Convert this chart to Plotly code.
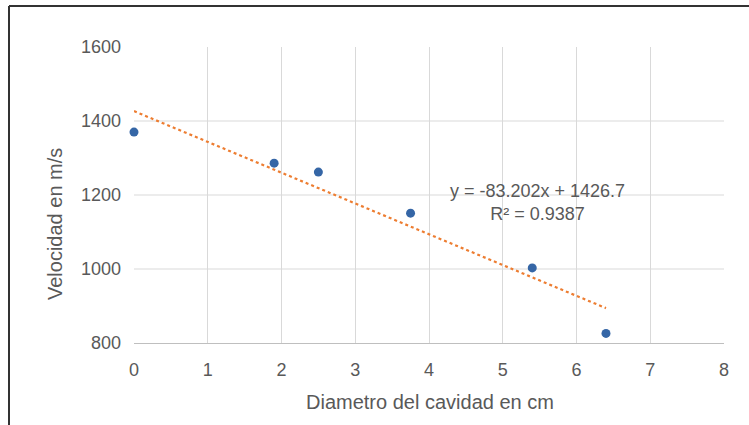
import plotly.graph_objects as go

# Measured velocity vs. cavity diameter
diametro_cm = [0.0, 1.9, 2.5, 3.75, 5.4, 6.4]
velocidad_ms = [1370, 1286, 1262, 1151, 1003, 826]

# Linear trendline as reported on the chart
pendiente = -83.202
intercepto = 1426.7
r2 = 0.9387

x_ticks = [0, 1, 2, 3, 4, 5, 6, 7, 8]
y_ticks = [800, 1000, 1200, 1400, 1600]
y_grid = [1000, 1200, 1400]

W, H = 749, 425
L, R, T, B = 134, 25, 47, 82
FONT = "Liberation Sans, Arial, sans-serif"
GRAY_TXT = "#595959"
GRID = "#d9d9d9"


def px_x(p):
    return (p - L) / (W - L - R)


def px_y(p):
    return (H - B - p) / (H - T - B)


trend_x = [min(diametro_cm), max(diametro_cm)]
trend_y = [pendiente * v + intercepto for v in trend_x]

fig = go.Figure()
fig.add_trace(go.Scatter(
    x=trend_x, y=trend_y, mode="lines",
    line=dict(color="#ED7D31", width=2.2, dash="dot"),
    hoverinfo="skip", showlegend=False, cliponaxis=False,
))
fig.add_trace(go.Scatter(
    x=diametro_cm, y=velocidad_ms, mode="markers",
    marker=dict(color="#3566A6", size=9, line=dict(width=0)),
    showlegend=False, cliponaxis=False,
))

shapes = [
    dict(type="line", xref="paper", yref="y", x0=0, x1=1, y0=v, y1=v,
         line=dict(color=GRID, width=1), layer="below")
    for v in y_grid
]
# frame edges (top and left)
shapes.append(dict(type="line", xref="paper", yref="paper",
                   x0=px_x(9), x1=px_x(760), y0=px_y(6), y1=px_y(6),
                   line=dict(color="#333333", width=2)))
shapes.append(dict(type="line", xref="paper", yref="paper",
                   x0=px_x(9), x1=px_x(9), y0=px_y(6), y1=px_y(440),
                   line=dict(color="#333333", width=2)))

annotations = [
    dict(text=f"y = {pendiente}x + {intercepto}<br>R² = {r2}",
         xref="paper", yref="paper", x=px_x(537), y=px_y(202),
         xanchor="center", yanchor="middle", showarrow=False,
         font=dict(family=FONT, size=18, color=GRAY_TXT), align="center"),
    dict(text="Diametro del cavidad en cm",
         xref="paper", yref="paper", x=px_x(430), y=px_y(402),
         xanchor="center", yanchor="middle", showarrow=False,
         font=dict(family=FONT, size=20, color=GRAY_TXT)),
    dict(text="Velocidad en m/s", textangle=-90,
         xref="paper", yref="paper", x=px_x(55), y=px_y(224),
         xanchor="center", yanchor="middle", showarrow=False,
         font=dict(family=FONT, size=20, color=GRAY_TXT)),
]

fig.update_layout(
    width=W, height=H,
    margin=dict(l=L, r=R, t=T, b=B, pad=0),
    paper_bgcolor="white", plot_bgcolor="white",
    font=dict(family=FONT, size=18, color=GRAY_TXT),
    shapes=shapes, annotations=annotations,
    xaxis=dict(range=[0, 8], tickvals=x_ticks, showgrid=True, gridcolor=GRID,
               gridwidth=1, zeroline=False, showline=True, linecolor="#bfbfbf",
               linewidth=1, ticks="", ticklabelstandoff=10,
               tickfont=dict(family=FONT, size=18, color=GRAY_TXT)),
    yaxis=dict(range=[800, 1600], tickvals=y_ticks, showgrid=False,
               zeroline=False, showline=False, ticks="", ticklabelstandoff=12,
               tickfont=dict(family=FONT, size=18, color=GRAY_TXT)),
)

fig.write_html("out.html")
